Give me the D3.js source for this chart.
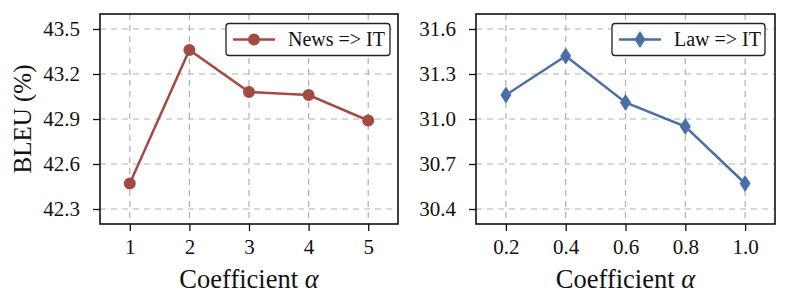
<!DOCTYPE html>
<html>
<head>
<meta charset="utf-8">
<script src="https://cdn.jsdelivr.net/npm/d3@7"></script>
<style>
  body { margin: 0; background: #fff; }
  svg { display: block; }
</style>
</head>
<body>
<div id="chart"></div>
<script>
// data
var newsX = [1, 2, 3, 4, 5];
var newsBleu = [42.47, 43.36, 43.08, 43.06, 42.89];
var newsTicksY = [42.3, 42.6, 42.9, 43.2, 43.5];

var lawX = [0.2, 0.4, 0.6, 0.8, 1.0];
var lawBleu = [31.16, 31.42, 31.11, 30.95, 30.57];
var lawTicksY = [30.4, 30.7, 31.0, 31.3, 31.6];

var SERIF = 'Liberation Serif, Times New Roman, serif';
var W = 788, H = 305;
var svg = d3.select('#chart').append('svg')
    .attr('width', W)
    .attr('height', H)
    .attr('font-family', SERIF);

var panels = [
    { left: 100, right: 398, xs: newsX, ys: newsBleu, xDom: [0.5, 5.5], yDom: [42.2, 43.6],
      yTicks: newsTicksY, xFmt: d3.format('d'), color: '#a24b45', marker: 'circle',
      label: 'News => IT', legend: [226, 390], ylabel: true },
    { left: 476, right: 775, xs: lawX, ys: lawBleu, xDom: [0.1, 1.1], yDom: [30.3, 31.7],
      yTicks: lawTicksY, xFmt: d3.format('.1f'), color: '#4a6fa5', marker: 'diamond',
      label: 'Law => IT', legend: [612, 765], ylabel: false }
];
var yTop = 14, yBot = 224;

panels.forEach(function (p) {
    var x = d3.scaleLinear().domain(p.xDom).range([p.left, p.right]);
    var y = d3.scaleLinear().domain(p.yDom).range([yBot, yTop]);
    var g = svg.append('g');

    // grid
    g.selectAll('line.gx').data(p.xs).enter().append('line')
        .attr('x1', function (d) { return x(d); })
        .attr('x2', function (d) { return x(d); })
        .attr('y1', yTop).attr('y2', yBot)
        .attr('stroke', '#b0b0b0').attr('stroke-width', 1.2)
        .attr('stroke-dasharray', '6,5');
    g.selectAll('line.gy').data(p.yTicks).enter().append('line')
        .attr('y1', function (d) { return y(d); })
        .attr('y2', function (d) { return y(d); })
        .attr('x1', p.left).attr('x2', p.right)
        .attr('stroke', '#b0b0b0').attr('stroke-width', 1.2)
        .attr('stroke-dasharray', '6,5');

    // axes
    var xa = g.append('g').attr('transform', 'translate(0,' + yBot + ')')
        .call(d3.axisBottom(x).tickValues(p.xs).tickFormat(p.xFmt).tickSize(7).tickPadding(8));
    var ya = g.append('g').attr('transform', 'translate(' + p.left + ',0)')
        .call(d3.axisLeft(y).tickValues(p.yTicks).tickFormat(d3.format('.1f')).tickSize(7).tickPadding(13));
    [xa, ya].forEach(function (a) {
        a.attr('font-family', SERIF).attr('font-size', 21);
        a.select('.domain').remove();
        a.selectAll('.tick line').attr('stroke', '#111').attr('stroke-width', 1.3);
        a.selectAll('.tick text').attr('fill', '#111');
    });

    // frame
    g.append('rect')
        .attr('x', p.left).attr('y', yTop)
        .attr('width', p.right - p.left).attr('height', yBot - yTop)
        .attr('fill', 'none').attr('stroke', '#111').attr('stroke-width', 1.6);

    // line
    var line = d3.line()
        .x(function (d, i) { return x(p.xs[i]); })
        .y(function (d) { return y(d); });
    g.append('path').datum(p.ys)
        .attr('d', line)
        .attr('fill', 'none').attr('stroke', p.color).attr('stroke-width', 2.5);

    function drawMarker(sel) {
        if (p.marker === 'circle') {
            sel.append('path').attr('d', d3.symbol().type(d3.symbolCircle).size(113)).attr('fill', p.color);
        } else {
            sel.append('path').attr('d', 'M0,-8.5L5.5,0L0,8.5L-5.5,0Z').attr('fill', p.color);
        }
    }
    g.selectAll('g.pt').data(p.ys).enter().append('g')
        .attr('transform', function (d, i) { return 'translate(' + x(p.xs[i]) + ',' + y(d) + ')'; })
        .each(function () { drawMarker(d3.select(this)); });

    // axis labels
    g.append('text')
        .attr('x', (p.left + p.right) / 2).attr('y', 288)
        .attr('text-anchor', 'middle').attr('font-size', 26.5).attr('fill', '#111')
        .text('Coefficient ')
        .append('tspan').attr('font-style', 'italic').text('α');
    if (p.ylabel) {
        g.append('text')
            .attr('transform', 'translate(31,' + ((yTop + yBot) / 2) + ') rotate(-90)')
            .attr('text-anchor', 'middle').attr('font-size', 25).attr('fill', '#111')
            .text('BLEU (%)');
    }

    // legend
    var lg = g.append('g');
    lg.append('rect')
        .attr('x', p.legend[0]).attr('y', 23.5)
        .attr('width', p.legend[1] - p.legend[0]).attr('height', 32)
        .attr('rx', 3)
        .attr('fill', '#fff').attr('stroke', '#222').attr('stroke-width', 1.3);
    lg.append('line')
        .attr('x1', p.legend[0] + 7).attr('x2', p.legend[0] + 49)
        .attr('y1', 39.5).attr('y2', 39.5)
        .attr('stroke', p.color).attr('stroke-width', 2.5);
    var mk = lg.append('g').attr('transform', 'translate(' + (p.legend[0] + 28) + ',39.5)');
    drawMarker(mk);
    lg.append('text')
        .attr('x', p.legend[0] + 62).attr('y', 46)
        .attr('font-size', 20).attr('fill', '#111')
        .text(p.label);
});
</script>
</body>
</html>
